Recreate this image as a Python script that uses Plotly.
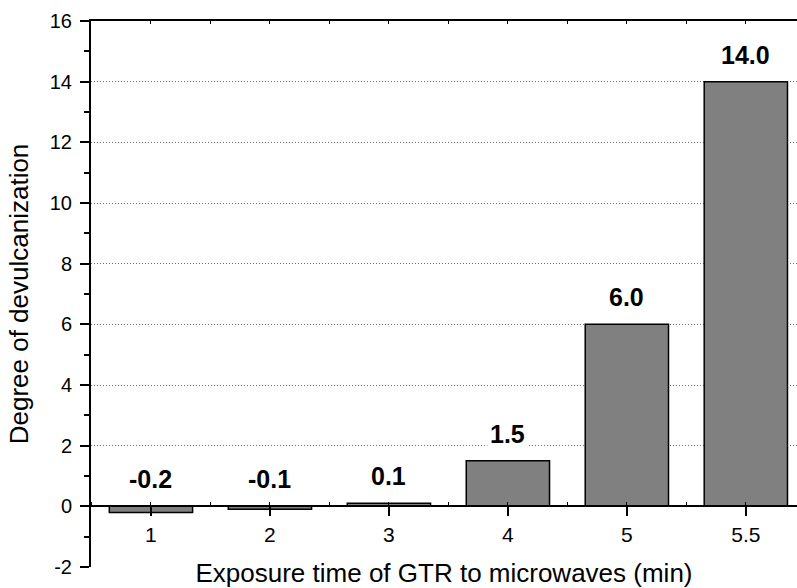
import plotly.graph_objects as go

# exposure time categories (min) and degree of devulcanization
categories = ["1", "2", "3", "4", "5", "5.5"]
devulc = [-0.2, -0.1, 0.1, 1.5, 6.0, 14.0]
y_ticks = [-2, 0, 2, 4, 6, 8, 10, 12, 14, 16]
grid_vals = [2, 4, 6, 8, 10, 12, 14]

FONT = "Arial, Liberation Sans, sans-serif"
xpos = list(range(len(categories)))

fig = go.Figure()
fig.add_trace(go.Bar(
    x=xpos, y=devulc, width=0.7,
    marker=dict(color="#808080", line=dict(color="black", width=1.5)),
    showlegend=False, hoverinfo="skip",
))
# dummy trace so the helper axes (top frame, grid) get drawn
fig.add_trace(go.Scatter(x=xpos, y=[None] * len(xpos), xaxis="x2", yaxis="y2",
                         showlegend=False, hoverinfo="skip"))

for i, v in enumerate(devulc):
    fig.add_annotation(
        x=i, y=max(v, 0), text=f"{v:.1f}", showarrow=False,
        yanchor="bottom", yshift=10, bgcolor="white", borderpad=2,
        font=dict(family=FONT, size=25, color="black", weight="bold"),
    )

xr = [-0.504, 5.43]
fig.update_layout(
    width=797, height=588,
    margin=dict(l=91, r=0, t=21, b=21),
    plot_bgcolor="white", paper_bgcolor="white",
    font=dict(family=FONT, color="black"),
    xaxis=dict(
        range=xr, tickmode="array", tickvals=xpos, ticktext=categories,
        anchor="free", position=2 / 18,
        showline=True, linecolor="black", linewidth=2,
        ticks="outside", ticklen=9, tickwidth=2, tickcolor="black",
        minor=dict(dtick=0.5, tick0=0.5, ticks="inside", ticklen=3, tickwidth=1, tickcolor="black"),
        tickfont=dict(size=21), showgrid=False, zeroline=False,
        title=dict(text="Exposure time of GTR to microwaves (min)", font=dict(size=26), standoff=24),
        automargin=False,
    ),
    xaxis2=dict(
        range=xr, overlaying="x", side="top", anchor="y",
        showline=True, linecolor="black", linewidth=2,
        tickmode="linear", tick0=0, dtick=0.5,
        ticks="inside", ticklen=3, tickwidth=1, tickcolor="black",
        showticklabels=False, showgrid=False, zeroline=False,
    ),
    yaxis=dict(
        range=[-2, 16], tickmode="array", tickvals=y_ticks,
        ticktext=[str(t) for t in y_ticks],
        showline=True, linecolor="black", linewidth=2,
        ticks="outside", ticklen=9, tickwidth=2, tickcolor="black",
        minor=dict(dtick=1, tick0=-1, ticks="outside", ticklen=5, tickwidth=2, tickcolor="black"),
        tickfont=dict(size=20), ticklabelstandoff=4,
        showgrid=False, zeroline=False,
        title=dict(text="Degree of devulcanization", font=dict(size=26), standoff=14),
        automargin=False,
    ),
    yaxis2=dict(
        range=[-2, 16], overlaying="y", anchor="x",
        tickmode="array", tickvals=grid_vals, showticklabels=False, ticks="",
        showgrid=True, gridcolor="#707070", gridwidth=1, griddash="1px,2px",
        showline=False, zeroline=False,
    ),
)

fig.write_html("out.html", config={"displayModeBar": False},
               post_script="document.body.style.margin='0';")
